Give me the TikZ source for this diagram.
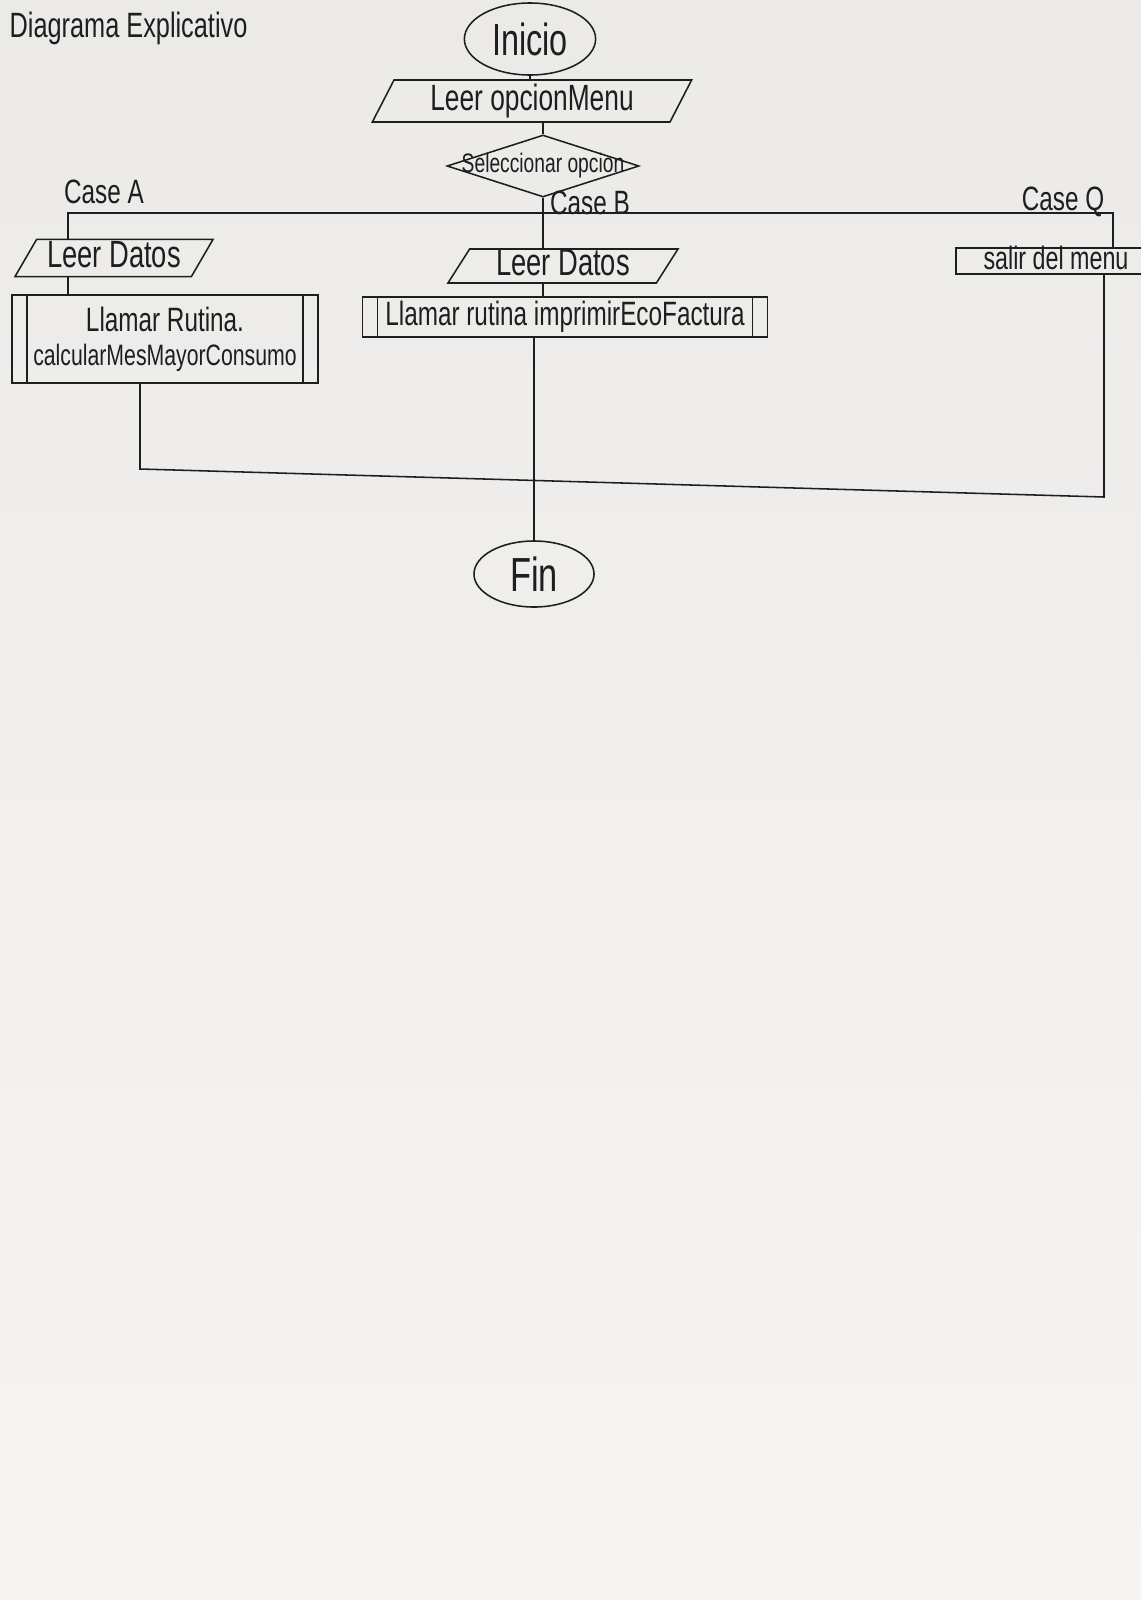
\documentclass[tikz,border=0pt]{standalone}
\usepackage{fontspec}
\setmainfont{Liberation Sans}[FakeStretch=0.72]
\usepackage{tikz}
\usetikzlibrary{shapes.geometric, positioning, calc}
\definecolor{papertop}{RGB}{236,234,231}
\definecolor{paperbot}{RGB}{246,245,243}
\definecolor{ink}{RGB}{30,30,34}
\tikzset{
  fs/.style={font=\fontsize{#1}{#1}\selectfont},
  term/.style={ellipse, draw=ink, line width=1.1pt, inner sep=0pt,
               text=ink, fs=32},
  io/.style={trapezium, trapezium left angle=55, trapezium right angle=125,
             trapezium stretches body, draw=ink, line width=1.1pt,
             inner sep=0pt, text height=18pt, text depth=4pt,
             text=ink, fs=26},
  cond/.style={diamond, draw=ink, line width=1.1pt, inner sep=0pt},
  subr/.style={rectangle, draw=ink, line width=1.1pt, inner sep=0pt,
               align=center, text=ink, fs=24},
  proc/.style={rectangle, draw=ink, line width=1.1pt, inner sep=0pt,
               text height=14pt, text depth=2pt, text=ink, fs=23},
  lbl/.style={text=ink, inner sep=1pt, fs=24},
  conn/.style={draw=ink, line width=1.1pt},
}
\begin{document}
\begin{tikzpicture}[x=0.025cm, y=-0.025cm]
  \useasboundingbox (0,0) rectangle (1141,1600);
  \shade[top color=papertop, bottom color=paperbot] (0,0) rectangle (1141,1600);
  %% Title
  \node[lbl, fs=25, anchor=west] (title) at (8,28) {Diagrama Explicativo};
  %% Main flow
  \node[term, minimum width=3.28cm, minimum height=1.8cm] (ini) at (530,39) {Inicio};
  \node[io, minimum width=7.98cm, minimum height=1.05cm] (lm) at (532,101) {Leer opcionMenu};
  \node[cond, minimum width=4.8cm, minimum height=1.55cm,
    label={[fs=19, text=ink]center:Seleccionar opcion}] (sel) at (543,166) {};
  \draw[conn] (ini.south) -- (ini.south |- lm.north);
  \draw[conn] (lm.south -| sel.north) -- (sel.north);
  %% Cases
  \coordinate (brA) at (68,213);
  \coordinate (brQ) at (1113,213);
  \node[lbl] (cA) at (104,192) {Case A};
  \node[lbl] (cB) at (590,203) {Case B};
  \node[lbl] (cQ) at (1063,202) {Case Q};
  %% Case A
  \node[io, fs=27, minimum width=4.95cm, minimum height=0.93cm] (lA) at (114,258) {Leer Datos};
  \node[subr, minimum width=7.65cm, minimum height=2.2cm] (rA) at (165,339)
    {Llamar Rutina.\\{\fontsize{21}{21}\selectfont calcularMesMayorConsumo}};
  %% Case B
  \node[io, fs=27, minimum width=5.75cm, minimum height=0.85cm] (lB) at (563,266) {Leer Datos};
  \node[subr, minimum width=10.13cm, minimum height=1.0cm] (rB) at (565,317)
    {Llamar rutina imprimirEcoFactura};
  %% Case Q
  \node[proc, minimum width=5.0cm, minimum height=0.65cm] (sQ) at (1056,261) {salir del menu};
  \foreach \r in {rA,rB} {
    \draw[conn] ([xshift=0.4cm]\r.north west) -- ([xshift=0.4cm]\r.south west);
    \draw[conn] ([xshift=-0.4cm]\r.north east) -- ([xshift=-0.4cm]\r.south east);
  }
  \draw[conn] (sel.south) -- (sel.south |- brA);
  \draw[conn] (brA |- lA.north) -- (brA) -- (brQ) -- (brQ |- sQ.north);
  \draw[conn] (brA |- lA.south) -- (brA |- rA.north);
  \draw[conn] (sel.south |- brA) -- (sel.south |- lB.north);
  \draw[conn] (sel.south |- lB.south) -- (sel.south |- rB.north);
  %% Join and end
  \coordinate (jA) at (140,469);
  \coordinate (jQ) at (1104,497);
  \node[term, fs=34, minimum width=3.0cm, minimum height=1.65cm] (fin) at (534,574) {Fin};
  \draw[conn] (rA.south -| jA) -- (jA) -- (jQ) -- (jQ |- sQ.south);
  \draw[conn] (rB.south -| fin.north) -- (fin.north);
\end{tikzpicture}
\end{document}
